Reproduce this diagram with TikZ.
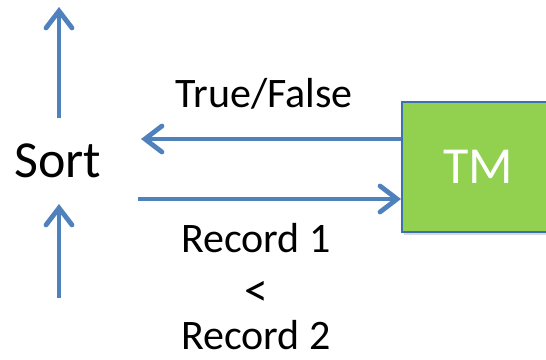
\documentclass[tikz,border=0pt]{standalone}
\usepackage{fontspec}
\setmainfont{Carlito}
\usetikzlibrary{arrows.meta,shadows}
\definecolor{arrowblue}{HTML}{4F81BD}
\definecolor{tmgreen}{HTML}{92D050}
\definecolor{tmborder}{HTML}{3F70AE}
\begin{document}
\begin{tikzpicture}[x=1pt,y=-1pt,
  flow/.style={draw=arrowblue,line width=4.8pt,-{Straight Barb[length=17pt,width=26pt,line width=4.8pt,line cap=round]}},
  lbl/.style={inner sep=0pt,anchor=base},
  tmbox/.style={draw=tmborder,line width=2pt,fill=tmgreen,drop shadow={shadow xshift=2pt,shadow yshift=-3pt,opacity=0.3}}]
\useasboundingbox (0,0) rectangle (546,359);
\begin{scope}
\clip (0,0) rectangle (546,359);
\node[tmbox,minimum width=152pt,minimum height=130pt,inner sep=0pt] (tm) at (478,167) {};
\end{scope}
\node[font=\fontsize{52}{62}\selectfont,text=white,inner sep=0pt] (tmtext) at (478,167) {TM};
\node[font=\fontsize{52}{62}\selectfont,inner sep=0pt,anchor=base] (sort) at (58,177) {Sort};
\coordinate (topstart) at (59,118);
\coordinate (topend) at (59,7);
\coordinate (botstart) at (59,298);
\coordinate (botend) at (59,204);
\coordinate (tfend) at (141,139);
\coordinate (recstart) at (138,199);
\draw[flow] (topstart) -- (topend);
\draw[flow] (botstart) -- (botend);
\draw[flow] (tm.west |- tfend) -- (tfend);
\draw[flow] (recstart) -- (tm.west |- recstart);
\node[lbl,font=\fontsize{42}{48}\selectfont] (tf) at (264,107) {True/False};
\node[lbl,font=\fontsize{42}{48}\selectfont] (r1) at (256,252) {Record 1};
\node[lbl,font=\fontsize{48}{54}\selectfont] (lt) at (256,306) {<};
\node[lbl,font=\fontsize{42}{48}\selectfont] (r2) at (256,349) {Record 2};
\end{tikzpicture}
\end{document}
